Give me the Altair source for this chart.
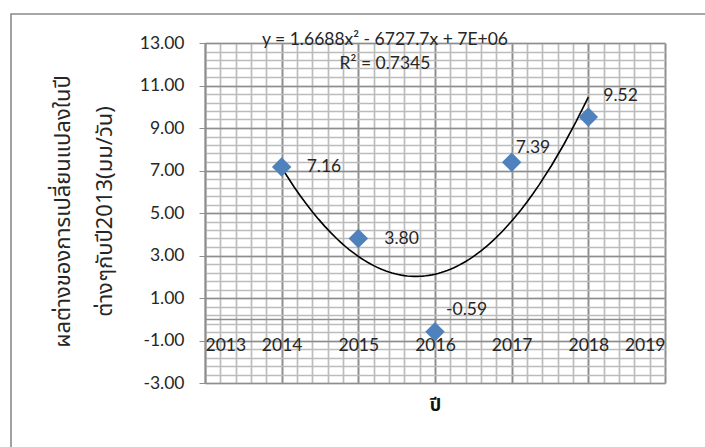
import altair as alt
import pandas as pd

# Yearly change relative to 2013 (mm/day)
years = [2014, 2015, 2016, 2017, 2018]
values = [7.16, 3.80, -0.59, 7.39, 9.52]

x_ticks = [2013, 2014, 2015, 2016, 2017, 2018, 2019]
y_ticks = [-3, -1, 1, 3, 5, 7, 9, 11, 13]
x_minor = [round(2013 + 0.2 * i, 1) for i in range(31)]
y_minor = [round(-3 + 0.4 * i, 1) for i in range(41)]

equation = "y = 1.6688x² - 6727.7x + 7E+06"
r_squared = "R² = 0.7345"
y_title = ["ผลต่างของการเปลี่ยนแปลงในปี", "ต่างๆกับปี2013(มม/วัน)"]
x_title = "ปี"

# label offsets (dx, dy) for each point, in year order
label_offsets = [(25, 0), (26, 0), (11, -22), (4, -14), (15, -21)]

FONT = "Lato"
THAI_FONT = "Tahoma, Noto Sans Thai, Loma, Garuda, sans-serif"
TEXT = "#262626"
FS = 17.5
W, H = 460, 340
MAJOR, MINOR = "#8e8e8e", "#bcbcbc"

df = pd.DataFrame({"year": years, "value": values})

xs = alt.Scale(domain=[2013, 2019], nice=False, zero=False)
ys = alt.Scale(domain=[-3, 13], nice=False, zero=False)

base = alt.Chart(df)

# minor grid only
minor = base.mark_point(opacity=0).encode(
    x=alt.X("year:Q", scale=xs, axis=alt.Axis(
        orient="bottom", values=x_minor, grid=True, gridColor=MINOR,
        gridWidth=1.7, labels=False, ticks=False, domain=False, title=None)),
    y=alt.Y("value:Q", scale=ys, axis=alt.Axis(
        orient="left", values=y_minor, grid=True, gridColor=MINOR,
        gridWidth=1.7, labels=False, ticks=False, domain=False, title=None)),
)

points = base.mark_point(
    shape="diamond", filled=True, size=380, color="#4F81BD", opacity=1
).encode(
    x=alt.X("year:Q", scale=xs, axis=alt.Axis(
        orient="bottom", values=x_ticks, format="d", grid=True,
        gridColor=MAJOR, gridWidth=1.7, offset=-64,
        domainColor=MAJOR, domainWidth=1.7, tickColor=MAJOR,
        tickSize=6, labelPadding=11, labelFont=FONT, labelFontSize=FS,
        labelColor=TEXT, title=x_title, titleFont=THAI_FONT,
        titleFontSize=18, titleFontWeight="bold", titleColor="#111",
        titleY=86, titleBaseline="middle")),
    y=alt.Y("value:Q", scale=ys, axis=alt.Axis(
        orient="left", values=y_ticks, format=".2f", grid=True,
        gridColor=MAJOR, gridWidth=1.7, domainColor=MAJOR,
        domainWidth=1.7, tickColor=MAJOR, tickSize=6, labelPadding=15,
        labelFont=FONT, labelFontSize=FS, labelColor=TEXT,
        title=y_title, titleFont=THAI_FONT, titleFontSize=22,
        titleFontWeight="normal", titleColor=TEXT, titleAngle=270,
        titleX=-153, titleY=168, titleBaseline="top", titleAlign="center",
        titleLineHeight=42)),
)

trend = base.transform_regression(
    "year", "value", method="poly", order=2, extent=[2014, 2018]
).mark_line(color="black", strokeWidth=1.6).encode(
    x=alt.X("year:Q", scale=xs, axis=None),
    y=alt.Y("value:Q", scale=ys, axis=None),
)

labels = []
for yr, (dx, dy) in zip(years, label_offsets):
    labels.append(
        base.transform_filter(alt.datum.year == yr).mark_text(
            align="left", baseline="middle", dx=dx, dy=dy, font=FONT,
            fontSize=FS, color=TEXT
        ).encode(
            x=alt.X("year:Q", scale=xs, axis=None),
            y=alt.Y("value:Q", scale=ys, axis=None),
            text=alt.Text("value:Q", format=".2f"),
        )
    )

one = alt.Data(values=[{}])
eq_text = alt.Chart(one).mark_text(
    align="center", baseline="middle", font=FONT, fontSize=FS, color=TEXT
).encode(x=alt.value(180), y=alt.value(-3), text=alt.value(equation))
r2_text = alt.Chart(one).mark_text(
    align="center", baseline="middle", font=FONT, fontSize=FS, color=TEXT
).encode(x=alt.value(180), y=alt.value(21), text=alt.value(r_squared))

frame = alt.Chart(one).mark_rect(
    filled=False, stroke="#8a8a8a", strokeWidth=1.6
).encode(x=alt.value(-194), x2=alt.value(520), y=alt.value(-29),
         y2=alt.value(430))

chart = alt.layer(
    minor, frame, trend, points, *labels, eq_text, r2_text
).resolve_axis(x="independent", y="independent").properties(
    width=W, height=H,
    autosize=alt.AutoSizeParams(type="none"),
    padding={"left": 205, "top": 43, "right": 40, "bottom": 64},
    background="white",
).configure_view(
    stroke="#8c8c8c", strokeWidth=2
).configure(
    locale={"number": {"decimal": ".", "thousands": ",", "grouping": [3],
                       "currency": ["$", ""], "minus": "-"}}
)

chart.save("out.html", embed_options={"renderer": "svg", "actions": False})
